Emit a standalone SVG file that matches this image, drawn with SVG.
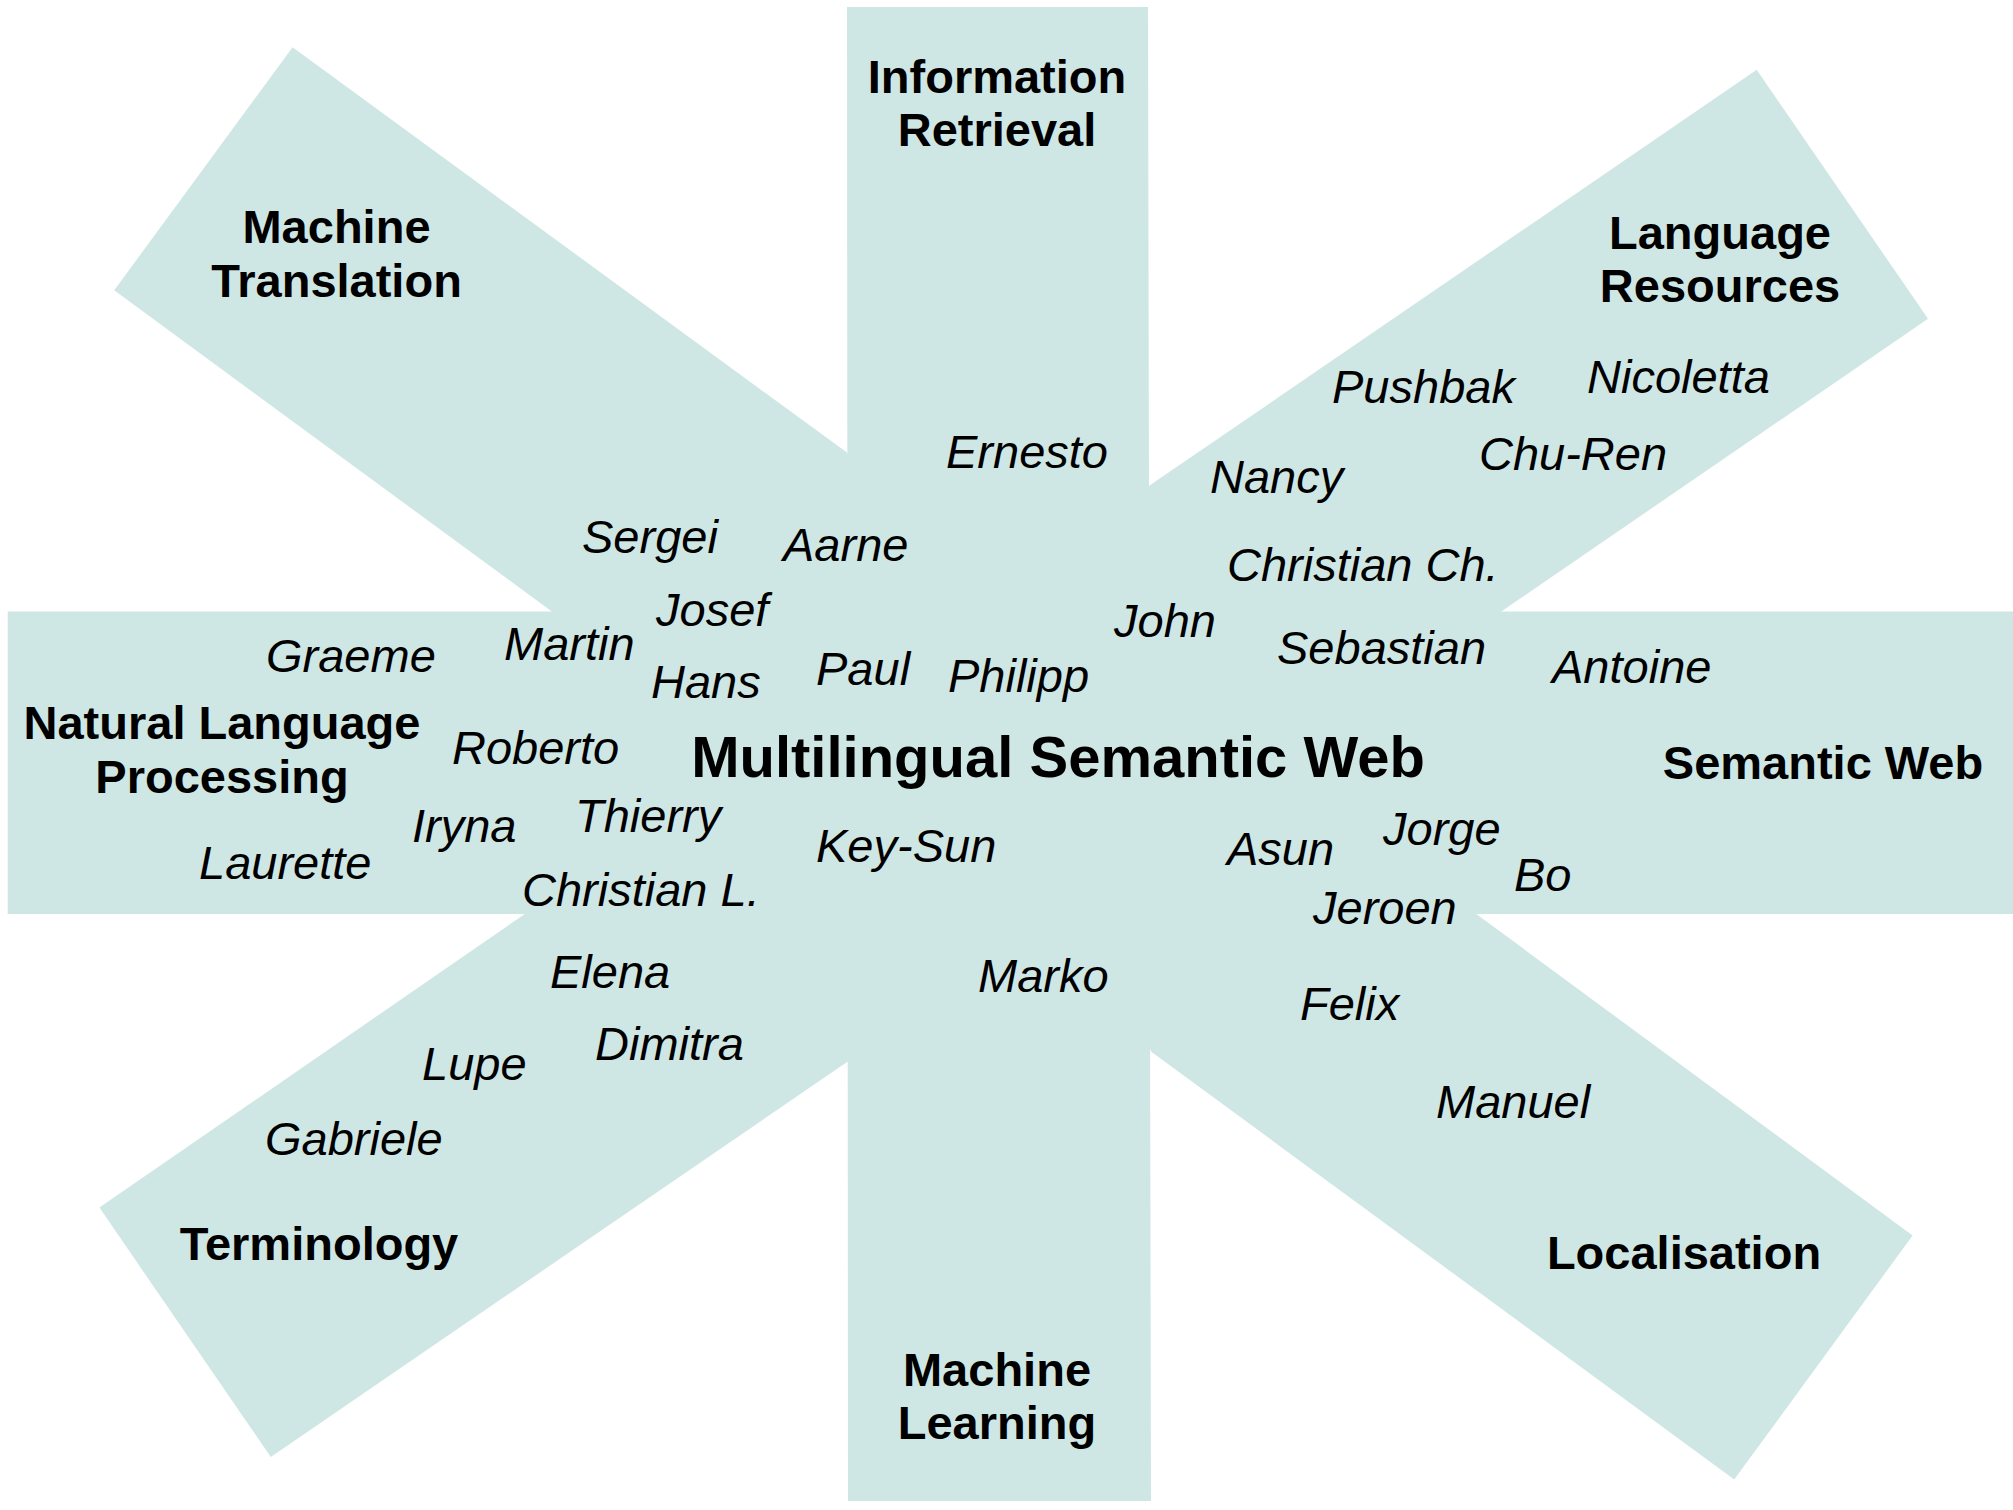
<svg xmlns="http://www.w3.org/2000/svg" width="2013" height="1510" viewBox="0 0 2013 1510">
<style>
.band{fill:#cfe7e4;stroke:none}
.lbl{font-family:"Liberation Sans",Arial,sans-serif;font-weight:bold;font-size:47px;fill:#000;text-anchor:middle}
.title{font-family:"Liberation Sans",Arial,sans-serif;font-weight:bold;font-size:58px;fill:#000;text-anchor:middle}
.nm{font-family:"Liberation Sans",Arial,sans-serif;font-style:italic;font-size:47px;fill:#000}
</style>
<rect width="2013" height="1510" fill="#fff"/>
<g id="arm-ir">
<polygon class="band" points="847,7 1148,7 1151,1501 848,1501"/>
<text class="lbl" x="997" y="93">Information</text>
<text class="lbl" x="997" y="146">Retrieval</text>
</g>
<g id="arm-nlp">
<polygon class="band" points="7.7,611.5 2013,611.5 2013,914 7.7,914"/>
<text class="lbl" x="222" y="739">Natural Language</text>
<text class="lbl" x="222" y="793">Processing</text>
</g>
<g id="arm-sw">
<text class="lbl" x="1823" y="779">Semantic Web</text>
</g>
<g id="arm-ml">
<text class="lbl" x="997" y="1386">Machine</text>
<text class="lbl" x="997" y="1439">Learning</text>
</g>
<g id="arm-mt">
<polygon class="band" points="292.6,47.2 847,452.6 1000,760 551.8,611.5 114.2,290.3"/>
<text class="lbl" x="336.5" y="243">Machine</text>
<text class="lbl" x="336.5" y="297">Translation</text>
</g>
<g id="arm-lr">
<polygon class="band" points="1756.7,69.8 1928,318.7 1501.3,611.5 1000,760 1148.4,486.3"/>
<text class="lbl" x="1720" y="249">Language</text>
<text class="lbl" x="1720" y="302">Resources</text>
</g>
<g id="arm-term">
<polygon class="band" points="524.8,914 99.4,1207.6 270.8,1457 848.2,1061.2 1000,760"/>
<text class="lbl" x="319" y="1260">Terminology</text>
</g>
<g id="arm-loc">
<polygon class="band" points="1476.3,914 1912.6,1235.5 1734.2,1479.6 1151.6,1052 1000,760"/>
<text class="lbl" x="1684" y="1269">Localisation</text>
</g>
<g id="center">
<text class="title" x="1058" y="777">Multilingual Semantic Web</text>
</g>
<g id="people">
<text class="nm" x="946" y="468">Ernesto</text>
<text class="nm" x="582" y="553">Sergei</text>
<text class="nm" x="783" y="561">Aarne</text>
<text class="nm" x="1332" y="403">Pushbak</text>
<text class="nm" x="1587" y="393">Nicoletta</text>
<text class="nm" x="1479" y="470">Chu-Ren</text>
<text class="nm" x="1210" y="493">Nancy</text>
<text class="nm" x="1227" y="581">Christian Ch.</text>
<text class="nm" x="656" y="626">Josef</text>
<text class="nm" x="504" y="660">Martin</text>
<text class="nm" x="266" y="672">Graeme</text>
<text class="nm" x="651" y="698">Hans</text>
<text class="nm" x="816" y="685">Paul</text>
<text class="nm" x="948" y="692">Philipp</text>
<text class="nm" x="1114" y="637">John</text>
<text class="nm" x="1277" y="664">Sebastian</text>
<text class="nm" x="1552" y="683">Antoine</text>
<text class="nm" x="452" y="764">Roberto</text>
<text class="nm" x="412" y="842">Iryna</text>
<text class="nm" x="575" y="832">Thierry</text>
<text class="nm" x="199" y="879">Laurette</text>
<text class="nm" x="816" y="862">Key-Sun</text>
<text class="nm" x="522" y="906">Christian L.</text>
<text class="nm" x="1227" y="865">Asun</text>
<text class="nm" x="1383" y="845">Jorge</text>
<text class="nm" x="1514" y="891">Bo</text>
<text class="nm" x="1313" y="924">Jeroen</text>
<text class="nm" x="550" y="988">Elena</text>
<text class="nm" x="978" y="992">Marko</text>
<text class="nm" x="1300" y="1020">Felix</text>
<text class="nm" x="595" y="1060">Dimitra</text>
<text class="nm" x="422" y="1080">Lupe</text>
<text class="nm" x="265" y="1155">Gabriele</text>
<text class="nm" x="1436" y="1118">Manuel</text>
</g>
</svg>
